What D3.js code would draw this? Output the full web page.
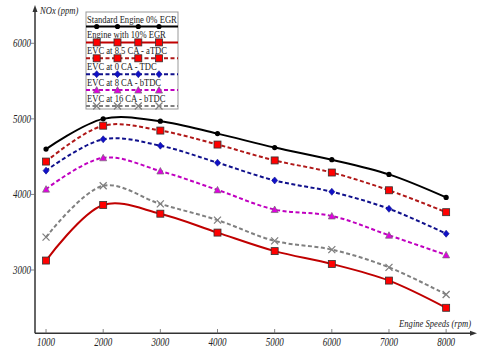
<!DOCTYPE html>
<html>
<head>
<meta charset="utf-8">
<script src="https://cdn.jsdelivr.net/npm/d3@7"></script>
<style>
  body { margin: 0; background: #fff; }
  svg text { font-family: "Liberation Serif", "Times New Roman", serif; }
</style>
</head>
<body>
<svg width="480" height="356"></svg>
<script>
// engine speeds (rpm)
var speeds = [1000, 2000, 3000, 4000, 5000, 6000, 7000, 8000];

// NOx (ppm) per case
var standard0 = [4600, 5000, 4970, 4805, 4620, 4460, 4265, 3960];
var egr10     = [3125, 3860, 3745, 3495, 3250, 3080, 2860, 2500];
var evc85a    = [4435, 4910, 4845, 4660, 4450, 4290, 4055, 3765];
var evc0      = [4315, 4730, 4645, 4420, 4185, 4035, 3810, 3480];
var evc8b     = [4070, 4485, 4310, 4060, 3800, 3715, 3460, 3200];
var evc16b    = [3435, 4115, 3875, 3660, 3385, 3270, 3035, 2675];

var seriesNames = ["Standard Engine 0% EGR", "Engine with 10% EGR", "EVC at 8.5 CA - aTDC",
                   "EVC at 0 CA - TDC", "EVC at 8 CA - bTDC", "EVC at 16 CA - bTDC"];
var yTicks = [3000, 4000, 5000, 6000];

var series = [
  { name: seriesNames[0], values: standard0, color: "#000000", dash: null, marker: "dot", fill: "#000" },
  { name: seriesNames[1], values: egr10, color: "#c00000", dash: null, marker: "square", fill: "#ff0000" },
  { name: seriesNames[2], values: evc85a, color: "#b01818", dash: "4,2.5", marker: "square", fill: "#ff0000" },
  { name: seriesNames[3], values: evc0, color: "#10108c", dash: "4,2.5", marker: "diamond", fill: "#1010c8" },
  { name: seriesNames[4], values: evc8b, color: "#c000c0", dash: "4,2.5", marker: "triangle", fill: "#e000e0" },
  { name: seriesNames[5], values: evc16b, color: "#808080", dash: "4,2.5", marker: "cross", fill: "none" }
];

var serif = "'Liberation Serif', 'Times New Roman', serif";
var squeeze = 0.78; // the original uses a narrow serif face

// text at (tx, ty), horizontally squeezed round its anchor
function label(parent, tx, ty) {
  return parent.append("text")
    .attr("transform", function(d) {
      var px = typeof tx === "function" ? tx(d) : tx;
      var py = typeof ty === "function" ? ty(d) : ty;
      return "translate(" + px + "," + py + ") scale(" + squeeze + ",1)";
    })
    .attr("font-family", serif)
    .attr("fill", "#222");
}

var svg = d3.select("svg");

var x = d3.scaleLinear().domain([807, 8470]).range([35, 473]);
var y = d3.scaleLinear().domain([3000, 6000]).range([270, 43.3]);

var axisColor = "#333";

// y axis
svg.append("line")
  .attr("x1", x(807)).attr("x2", x(807))
  .attr("y1", 333.3).attr("y2", 10)
  .attr("stroke", axisColor).attr("stroke-width", 1.5);
svg.append("path")
  .attr("d", "M" + (x(807) - 2.5) + ",12 L" + x(807) + ",5 L" + (x(807) + 2.5) + ",12 Z")
  .attr("fill", axisColor);

// x axis
svg.append("line")
  .attr("x1", x(807)).attr("x2", 472)
  .attr("y1", 333.3).attr("y2", 333.3)
  .attr("stroke", axisColor).attr("stroke-width", 1.5);
svg.append("path")
  .attr("d", "M470,330.8 L477,333.3 L470,335.8 Z")
  .attr("fill", axisColor);

var yTickG = svg.append("g").selectAll("g")
  .data(yTicks).enter().append("g");
yTickG.append("line")
  .attr("x1", x(807) - 4).attr("x2", x(807) + 1)
  .attr("y1", function(d) { return y(d); })
  .attr("y2", function(d) { return y(d); })
  .attr("stroke", "#666").attr("stroke-width", 0.8);
label(yTickG, x(807) - 4, function(d) { return y(d) + 4; })
  .attr("text-anchor", "end")
  .attr("font-size", 11.5)
  .attr("font-style", "italic")
  .text(function(d) { return d; });

var xTickG = svg.append("g").selectAll("g")
  .data(speeds).enter().append("g");
xTickG.append("line")
  .attr("x1", function(d) { return x(d); })
  .attr("x2", function(d) { return x(d); })
  .attr("y1", 329).attr("y2", 333.3)
  .attr("stroke", "#666").attr("stroke-width", 0.8);
label(xTickG, function(d) { return x(d); }, 345.5)
  .attr("text-anchor", "middle")
  .attr("font-size", 11.5)
  .attr("font-style", "italic")
  .text(function(d) { return d; });

label(svg, 40, 14)
  .attr("font-size", 11).attr("font-style", "italic")
  .text("NOx (ppm)");
label(svg, 471, 327)
  .attr("text-anchor", "end")
  .attr("font-size", 11).attr("font-style", "italic")
  .text("Engine Speeds (rpm)");

var line = d3.line()
  .x(function(d, i) { return x(speeds[i]); })
  .y(function(d) { return y(d); })
  .curve(d3.curveCatmullRom.alpha(0.5));

function drawMarker(g, s, cx, cy) {
  if (s.marker === "dot") {
    g.append("circle").attr("cx", cx).attr("cy", cy).attr("r", 2.6).attr("fill", "#000");
  } else if (s.marker === "square") {
    g.append("rect").attr("x", cx - 3.5).attr("y", cy - 3.5).attr("width", 7).attr("height", 7)
      .attr("fill", s.fill).attr("stroke", "#333").attr("stroke-width", 0.8);
  } else if (s.marker === "diamond") {
    g.append("path").attr("d", "M" + cx + "," + (cy - 3.5) + " L" + (cx + 3) + "," + cy + " L" + cx + "," + (cy + 3.5) + " L" + (cx - 3) + "," + cy + " Z")
      .attr("fill", s.fill).attr("stroke", "#10108c").attr("stroke-width", 0.6);
  } else if (s.marker === "triangle") {
    g.append("path").attr("d", "M" + cx + "," + (cy - 3.5) + " L" + (cx + 3.5) + "," + (cy + 3) + " L" + (cx - 3.5) + "," + (cy + 3) + " Z")
      .attr("fill", s.fill).attr("stroke", "#707070").attr("stroke-width", 0.7);
  } else if (s.marker === "cross") {
    g.append("path").attr("d", "M" + (cx - 3.5) + "," + (cy - 3.5) + " L" + (cx + 3.5) + "," + (cy + 3.5) + " M" + (cx + 3.5) + "," + (cy - 3.5) + " L" + (cx - 3.5) + "," + (cy + 3.5))
      .attr("stroke", "#808080").attr("stroke-width", 1.3).attr("fill", "none");
  }
}

var plot = svg.append("g");
series.forEach(function(s) {
  var g = plot.append("g");
  g.append("path")
    .datum(s.values)
    .attr("d", line)
    .attr("fill", "none")
    .attr("stroke", s.color)
    .attr("stroke-width", 2)
    .attr("stroke-dasharray", s.dash);
  s.values.forEach(function(v, i) {
    drawMarker(g, s, x(speeds[i]), y(v));
  });
});

// legend
var legend = svg.append("g");
legend.append("rect")
  .attr("x", 86).attr("y", 12).attr("width", 92).attr("height", 97)
  .attr("fill", "#fff").attr("stroke", "#999").attr("stroke-width", 1);
var legendX = [96.7, 117.5, 138.3, 159];
series.forEach(function(s, i) {
  var ly = 26.5 + i * 15.9;
  label(legend, 87, ly - 4)
    .attr("font-size", 11)
    .text(s.name);
  legend.append("line")
    .attr("x1", 86).attr("x2", 178)
    .attr("y1", ly).attr("y2", ly)
    .attr("stroke", s.color).attr("stroke-width", 2)
    .attr("stroke-dasharray", s.dash);
  legendX.forEach(function(lx) { drawMarker(legend, s, lx, ly); });
});
</script>
</body>
</html>
